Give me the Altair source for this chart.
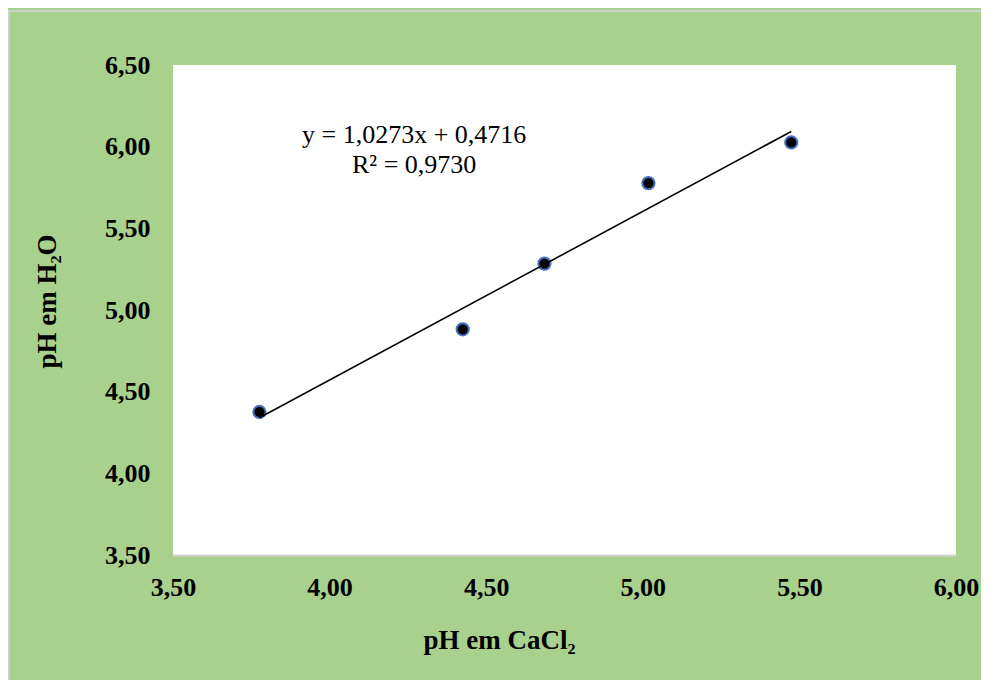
import altair as alt
import pandas as pd

# data
ph_cacl2 = [3.776, 4.425, 4.686, 5.018, 5.474]
ph_h2o = [4.376, 4.882, 5.284, 5.777, 6.026]

eq_lines = ["y = 1,0273x + 0,4716", "R² = 0,9730"]
eq_x = [4.27, 4.27]
eq_y = [6.02, 5.836]

x_ticks = [3.5, 4.0, 4.5, 5.0, 5.5, 6.0]
y_ticks = [3.5, 4.0, 4.5, 5.0, 5.5, 6.0, 6.5]

df = pd.DataFrame({"x": ph_cacl2, "y": ph_h2o})
eq_df = pd.DataFrame({"label": eq_lines, "x": eq_x, "y": eq_y})

FONT = "Liberation Serif"
label_expr = "replace(format(datum.value, '.2f'), '.', ',')"

xscale = alt.Scale(domain=[3.5, 6.0], nice=False, zero=False)
yscale = alt.Scale(domain=[3.5, 6.5], nice=False, zero=False)

xaxis = alt.Axis(
    values=x_ticks, labelExpr=label_expr, grid=False, ticks=False,
    domain=True, domainColor="#d4d4d4", domainWidth=2,
    labelFont=FONT, labelFontSize=26, labelFontWeight="bold", labelColor="black",
    labelPadding=19, labelBaseline="top", labelFlush=False,
    title="pH em  CaCl₂", titleFont=FONT, titleFontSize=27, titleFontWeight="bold",
    titleColor="black", titleX=326, titleY=93, titleAlign="center",
    titleBaseline="alphabetic",
)
yaxis = alt.Axis(
    values=y_ticks, labelExpr=label_expr, grid=False, ticks=False, domain=False,
    labelFont=FONT, labelFontSize=26, labelFontWeight="bold", labelColor="black",
    labelPadding=23, labelFlush=False,
    title="pH em H₂O", titleFont=FONT, titleFontSize=27, titleFontWeight="bold",
    titleColor="black", titleX=-126, titleY=236, titleAngle=-90,
    titleAlign="center", titleBaseline="middle",
)

base = alt.Chart(df)

border = alt.Chart(alt.Data(values=[{}])).mark_rect(
    fill=None, stroke="#cfcfcf", strokeWidth=2
).encode(
    x=alt.value(-164), x2=alt.value(1000), y=alt.value(-54), y2=alt.value(1000)
)

trend = base.transform_regression("x", "y").mark_line(
    color="black", strokeWidth=1.6
).encode(
    x=alt.X("x:Q", scale=xscale, axis=xaxis),
    y=alt.Y("y:Q", scale=yscale, axis=yaxis),
)

points = base.mark_point(
    filled=True, shape="circle", size=150, fill="black", stroke="#4472c4",
    strokeWidth=2, opacity=1
).encode(
    x=alt.X("x:Q", scale=xscale),
    y=alt.Y("y:Q", scale=yscale),
)

eq = alt.Chart(eq_df).mark_text(
    font=FONT, fontSize=26, color="black", align="center", baseline="alphabetic"
).encode(
    x=alt.X("x:Q", scale=xscale),
    y=alt.Y("y:Q", scale=yscale),
    text="label:N",
)

chart = alt.layer(border, points, trend, eq).properties(
    width=783, height=490,
    autosize=alt.AutoSizeParams(type="none"),
    padding={"left": 165, "top": 57, "right": 25, "bottom": 125},
    background="#a9d18e",
).configure_view(fill="white", stroke=None)

chart.save("out.html", embed_options={"renderer": "svg", "actions": False})
